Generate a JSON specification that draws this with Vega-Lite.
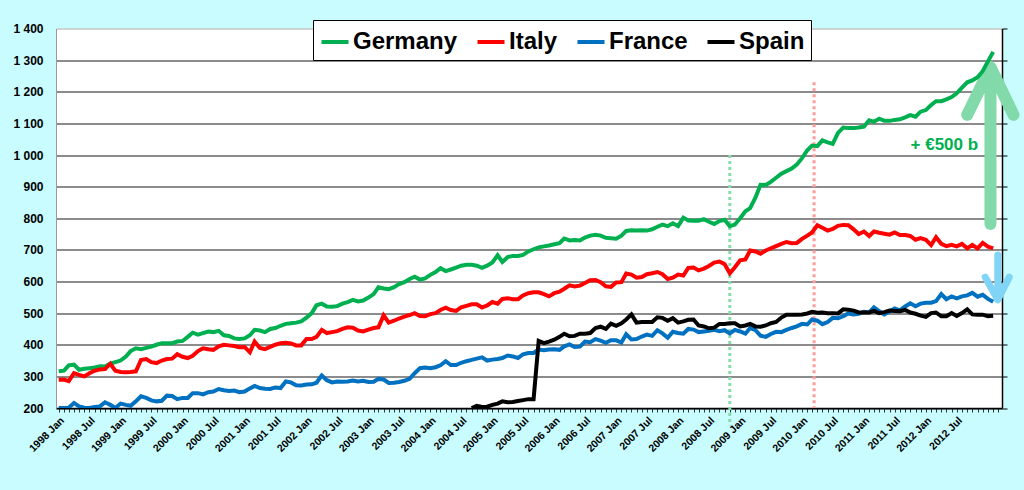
{
"$schema":"https://vega.github.io/schema/vega-lite/v6.json",
"width":946,"height":379.5,
"autosize":{"type":"none"},
"padding":{"left":56,"top":28.5,"right":22,"bottom":82},
"background":"#C8FCFF",
"config":{"view":{"fill":"white","stroke":null},"font":"Liberation Sans"},
"datasets":{
"monthly":[
{"d":"1998-01","Germany":316,"Italy":289,"France":200},
{"d":"1998-02","Germany":318,"Italy":290,"France":200},
{"d":"1998-03","Germany":335,"Italy":285,"France":201},
{"d":"1998-04","Germany":337,"Italy":310,"France":216},
{"d":"1998-05","Germany":321,"Italy":305,"France":205},
{"d":"1998-06","Germany":324,"Italy":300,"France":201},
{"d":"1998-07","Germany":326,"Italy":310,"France":200},
{"d":"1998-08","Germany":328,"Italy":318,"France":203},
{"d":"1998-09","Germany":332,"Italy":322,"France":205},
{"d":"1998-10","Germany":331,"Italy":323,"France":218},
{"d":"1998-11","Germany":340,"Italy":340,"France":210},
{"d":"1998-12","Germany":345,"Italy":318,"France":200},
{"d":"1999-01","Germany":350,"Italy":314,"France":214},
{"d":"1999-02","Germany":363,"Italy":313,"France":210},
{"d":"1999-03","Germany":380,"Italy":314,"France":207},
{"d":"1999-04","Germany":389,"Italy":316,"France":221},
{"d":"1999-05","Germany":386,"Italy":352,"France":237},
{"d":"1999-06","Germany":390,"Italy":355,"France":232},
{"d":"1999-07","Germany":394,"Italy":345,"France":224},
{"d":"1999-08","Germany":400,"Italy":342,"France":221},
{"d":"1999-09","Germany":405,"Italy":350,"France":223},
{"d":"1999-10","Germany":405,"Italy":355,"France":239},
{"d":"1999-11","Germany":405,"Italy":356,"France":238},
{"d":"1999-12","Germany":410,"Italy":370,"France":228},
{"d":"2000-01","Germany":412,"Italy":362,"France":232},
{"d":"2000-02","Germany":425,"Italy":358,"France":232},
{"d":"2000-03","Germany":438,"Italy":365,"France":247},
{"d":"2000-04","Germany":432,"Italy":380,"France":247},
{"d":"2000-05","Germany":437,"Italy":389,"France":243},
{"d":"2000-06","Germany":442,"Italy":386,"France":250},
{"d":"2000-07","Germany":440,"Italy":384,"France":252},
{"d":"2000-08","Germany":444,"Italy":395,"France":260},
{"d":"2000-09","Germany":430,"Italy":400,"France":256},
{"d":"2000-10","Germany":428,"Italy":398,"France":254},
{"d":"2000-11","Germany":420,"Italy":396,"France":255},
{"d":"2000-12","Germany":418,"Italy":392,"France":250},
{"d":"2001-01","Germany":420,"Italy":393,"France":252},
{"d":"2001-02","Germany":430,"Italy":376,"France":262},
{"d":"2001-03","Germany":447,"Italy":410,"France":270},
{"d":"2001-04","Germany":445,"Italy":390,"France":263},
{"d":"2001-05","Germany":440,"Italy":386,"France":261},
{"d":"2001-06","Germany":450,"Italy":393,"France":260},
{"d":"2001-07","Germany":453,"Italy":400,"France":265},
{"d":"2001-08","Germany":460,"Italy":405,"France":263},
{"d":"2001-09","Germany":466,"Italy":406,"France":284},
{"d":"2001-10","Germany":468,"Italy":404,"France":281},
{"d":"2001-11","Germany":470,"Italy":398,"France":272},
{"d":"2001-12","Germany":474,"Italy":398,"France":271},
{"d":"2002-01","Germany":486,"Italy":418,"France":274},
{"d":"2002-02","Germany":500,"Italy":418,"France":275},
{"d":"2002-03","Germany":525,"Italy":425,"France":280},
{"d":"2002-04","Germany":530,"Italy":447,"France":303},
{"d":"2002-05","Germany":521,"Italy":437,"France":288},
{"d":"2002-06","Germany":520,"Italy":440,"France":281},
{"d":"2002-07","Germany":522,"Italy":443,"France":284},
{"d":"2002-08","Germany":530,"Italy":450,"France":283},
{"d":"2002-09","Germany":535,"Italy":455,"France":284},
{"d":"2002-10","Germany":542,"Italy":454,"France":287},
{"d":"2002-11","Germany":537,"Italy":445,"France":284},
{"d":"2002-12","Germany":540,"Italy":442,"France":286},
{"d":"2003-01","Germany":549,"Italy":448,"France":282},
{"d":"2003-02","Germany":560,"Italy":453,"France":283},
{"d":"2003-03","Germany":582,"Italy":455,"France":292},
{"d":"2003-04","Germany":578,"Italy":493,"France":290},
{"d":"2003-05","Germany":576,"Italy":470,"France":279},
{"d":"2003-06","Germany":582,"Italy":476,"France":280},
{"d":"2003-07","Germany":592,"Italy":483,"France":282},
{"d":"2003-08","Germany":598,"Italy":489,"France":286},
{"d":"2003-09","Germany":608,"Italy":494,"France":292},
{"d":"2003-10","Germany":615,"Italy":500,"France":310},
{"d":"2003-11","Germany":606,"Italy":491,"France":326},
{"d":"2003-12","Germany":610,"Italy":490,"France":328},
{"d":"2004-01","Germany":621,"Italy":497,"France":326},
{"d":"2004-02","Germany":630,"Italy":500,"France":329},
{"d":"2004-03","Germany":642,"Italy":510,"France":335},
{"d":"2004-04","Germany":633,"Italy":517,"France":348},
{"d":"2004-05","Germany":638,"Italy":510,"France":336},
{"d":"2004-06","Germany":644,"Italy":507,"France":336},
{"d":"2004-07","Germany":650,"Italy":518,"France":343},
{"d":"2004-08","Germany":653,"Italy":523,"France":348},
{"d":"2004-09","Germany":653,"Italy":528,"France":352,"Spain":200},
{"d":"2004-10","Germany":650,"Italy":528,"France":356,"Spain":207},
{"d":"2004-11","Germany":643,"Italy":518,"France":360,"Spain":203},
{"d":"2004-12","Germany":650,"Italy":524,"France":350,"Spain":204},
{"d":"2005-01","Germany":660,"Italy":535,"France":353,"Spain":210},
{"d":"2005-02","Germany":683,"Italy":530,"France":355,"Spain":214},
{"d":"2005-03","Germany":662,"Italy":545,"France":358,"Spain":221},
{"d":"2005-04","Germany":677,"Italy":547,"France":366,"Spain":218},
{"d":"2005-05","Germany":681,"Italy":544,"France":363,"Spain":219},
{"d":"2005-06","Germany":681,"Italy":544,"France":358,"Spain":222},
{"d":"2005-07","Germany":684,"Italy":556,"France":370,"Spain":225},
{"d":"2005-08","Germany":695,"Italy":563,"France":374,"Spain":228},
{"d":"2005-09","Germany":702,"Italy":566,"France":374,"Spain":228},
{"d":"2005-10","Germany":708,"Italy":566,"France":385,"Spain":412},
{"d":"2005-11","Germany":711,"Italy":560,"France":383,"Spain":405},
{"d":"2005-12","Germany":714,"Italy":553,"France":385,"Spain":410},
{"d":"2006-01","Germany":718,"Italy":563,"France":386,"Spain":416},
{"d":"2006-02","Germany":721,"Italy":568,"France":384,"Spain":425},
{"d":"2006-03","Germany":736,"Italy":577,"France":395,"Spain":435},
{"d":"2006-04","Germany":730,"Italy":588,"France":401,"Spain":427},
{"d":"2006-05","Germany":731,"Italy":584,"France":393,"Spain":428},
{"d":"2006-06","Germany":730,"Italy":587,"France":394,"Spain":435},
{"d":"2006-07","Germany":739,"Italy":595,"France":410,"Spain":435},
{"d":"2006-08","Germany":745,"Italy":604,"France":408,"Spain":437},
{"d":"2006-09","Germany":748,"Italy":605,"France":418,"Spain":453},
{"d":"2006-10","Germany":745,"Italy":598,"France":413,"Spain":457},
{"d":"2006-11","Germany":738,"Italy":585,"France":406,"Spain":450},
{"d":"2006-12","Germany":737,"Italy":583,"France":414,"Spain":467},
{"d":"2007-01","Germany":735,"Italy":597,"France":414,"Spain":460},
{"d":"2007-02","Germany":745,"Italy":598,"France":407,"Spain":468},
{"d":"2007-03","Germany":760,"Italy":625,"France":433,"Spain":480},
{"d":"2007-04","Germany":762,"Italy":622,"France":417,"Spain":496},
{"d":"2007-05","Germany":761,"Italy":612,"France":418,"Spain":470},
{"d":"2007-06","Germany":762,"Italy":614,"France":426,"Spain":472},
{"d":"2007-07","Germany":761,"Italy":623,"France":432,"Spain":472},
{"d":"2007-08","Germany":765,"Italy":626,"France":428,"Spain":472},
{"d":"2007-09","Germany":773,"Italy":630,"France":446,"Spain":487},
{"d":"2007-10","Germany":780,"Italy":623,"France":436,"Spain":485},
{"d":"2007-11","Germany":775,"Italy":608,"France":422,"Spain":476},
{"d":"2007-12","Germany":784,"Italy":612,"France":441,"Spain":484},
{"d":"2008-01","Germany":775,"Italy":622,"France":437,"Spain":470},
{"d":"2008-02","Germany":802,"Italy":619,"France":435,"Spain":474},
{"d":"2008-03","Germany":793,"Italy":643,"France":450,"Spain":479},
{"d":"2008-04","Germany":792,"Italy":644,"France":448,"Spain":480},
{"d":"2008-05","Germany":792,"Italy":635,"France":440,"Spain":461},
{"d":"2008-06","Germany":797,"Italy":641,"France":442,"Spain":458},
{"d":"2008-07","Germany":789,"Italy":649,"France":444,"Spain":452},
{"d":"2008-08","Germany":782,"Italy":660,"France":447,"Spain":454},
{"d":"2008-09","Germany":791,"Italy":663,"France":443,"Spain":466},
{"d":"2008-10","Germany":795,"Italy":655,"France":446,"Spain":466},
{"d":"2008-11","Germany":775,"Italy":626,"France":436,"Spain":468},
{"d":"2008-12","Germany":780,"Italy":645,"France":447,"Spain":468},
{"d":"2009-01","Germany":800,"Italy":667,"France":442,"Spain":458},
{"d":"2009-02","Germany":822,"Italy":670,"France":435,"Spain":461},
{"d":"2009-03","Germany":832,"Italy":698,"France":453,"Spain":466},
{"d":"2009-04","Germany":865,"Italy":695,"France":446,"Spain":458},
{"d":"2009-05","Germany":906,"Italy":688,"France":429,"Spain":457},
{"d":"2009-06","Germany":905,"Italy":698,"France":425,"Spain":461},
{"d":"2009-07","Germany":915,"Italy":705,"France":434,"Spain":468},
{"d":"2009-08","Germany":928,"Italy":712,"France":441,"Spain":472},
{"d":"2009-09","Germany":941,"Italy":719,"France":440,"Spain":486},
{"d":"2009-10","Germany":949,"Italy":725,"France":447,"Spain":495},
{"d":"2009-11","Germany":957,"Italy":721,"France":453,"Spain":495},
{"d":"2009-12","Germany":970,"Italy":722,"France":458,"Spain":495},
{"d":"2010-01","Germany":990,"Italy":735,"France":466,"Spain":496},
{"d":"2010-02","Germany":1015,"Italy":745,"France":464,"Spain":499},
{"d":"2010-03","Germany":1030,"Italy":755,"France":480,"Spain":504},
{"d":"2010-04","Germany":1028,"Italy":778,"France":476,"Spain":501},
{"d":"2010-05","Germany":1046,"Italy":770,"France":465,"Spain":502},
{"d":"2010-06","Germany":1040,"Italy":761,"France":472,"Spain":500},
{"d":"2010-07","Germany":1035,"Italy":766,"France":485,"Spain":500},
{"d":"2010-08","Germany":1070,"Italy":776,"France":484,"Spain":499},
{"d":"2010-09","Germany":1087,"Italy":779,"France":490,"Spain":512},
{"d":"2010-10","Germany":1085,"Italy":778,"France":499,"Spain":511},
{"d":"2010-11","Germany":1085,"Italy":765,"France":496,"Spain":508},
{"d":"2010-12","Germany":1087,"Italy":750,"France":498,"Spain":502},
{"d":"2011-01","Germany":1090,"Italy":758,"France":504,"Spain":502},
{"d":"2011-02","Germany":1110,"Italy":744,"France":502,"Spain":502},
{"d":"2011-03","Germany":1105,"Italy":758,"France":518,"Spain":507},
{"d":"2011-04","Germany":1115,"Italy":754,"France":506,"Spain":500},
{"d":"2011-05","Germany":1108,"Italy":751,"France":496,"Spain":503},
{"d":"2011-06","Germany":1108,"Italy":748,"France":505,"Spain":508},
{"d":"2011-07","Germany":1111,"Italy":755,"France":515,"Spain":507},
{"d":"2011-08","Germany":1113,"Italy":747,"France":509,"Spain":506},
{"d":"2011-09","Germany":1119,"Italy":747,"France":521,"Spain":510},
{"d":"2011-10","Germany":1126,"Italy":744,"France":531,"Spain":502},
{"d":"2011-11","Germany":1121,"Italy":732,"France":522,"Spain":498},
{"d":"2011-12","Germany":1137,"Italy":737,"France":530,"Spain":492},
{"d":"2012-01","Germany":1142,"Italy":732,"France":533,"Spain":488},
{"d":"2012-02","Germany":1158,"Italy":715,"France":533,"Spain":500},
{"d":"2012-03","Germany":1170,"Italy":740,"France":538,"Spain":502},
{"d":"2012-04","Germany":1170,"Italy":719,"France":560,"Spain":490},
{"d":"2012-05","Germany":1176,"Italy":712,"France":544,"Spain":490},
{"d":"2012-06","Germany":1183,"Italy":716,"France":553,"Spain":500},
{"d":"2012-07","Germany":1195,"Italy":711,"France":547,"Spain":491},
{"d":"2012-08","Germany":1213,"Italy":719,"France":553,"Spain":500},
{"d":"2012-09","Germany":1230,"Italy":705,"France":556,"Spain":512},
{"d":"2012-10","Germany":1236,"Italy":716,"France":564,"Spain":496},
{"d":"2012-11","Germany":1246,"Italy":705,"France":552,"Spain":495},
{"d":"2012-12","Germany":1265,"Italy":722,"France":558,"Spain":495},
{"d":"2013-01","Germany":1296,"Italy":710,"France":545,"Spain":490},
{"d":"2013-02","Germany":1326,"Italy":705,"France":536,"Spain":492}
],
"ann":[
{"id":"gline","d":"2008-11-01","v":1000,"v2":145},
{"id":"rline","d":"2010-03-13","v":1230,"v2":200},
{"id":"gshaft","d":"2013-01-16","v":782,"o":1},
{"id":"gshaft","d":"2013-01-16","v":1255,"o":2},
{"id":"ghead","d":"2012-09-01","v":1127,"o":1},
{"id":"ghead","d":"2013-01-16","v":1278,"o":2},
{"id":"ghead","d":"2013-06-01","v":1127,"o":3},
{"id":"bshaft","d":"2013-02-28","v":684,"o":1},
{"id":"bshaft","d":"2013-02-28","v":560,"o":2},
{"id":"bhead","d":"2012-12-16","v":614,"o":1},
{"id":"bhead","d":"2013-02-28","v":542,"o":2},
{"id":"bhead","d":"2013-05-07","v":614,"o":3},
{"id":"txt","d":"2012-04-19","v":1032}
]
},
"encoding":{
"x":{"field":"d","type":"temporal",
 "scale":{"type":"utc","domain":[{"year":1997,"month":12,"date":16,"utc":true},{"year":2013,"month":3,"date":25,"utc":true}]},
 "axis":{"title":null,"tickCount":{"interval":"month","step":1},"labelExpr":"(utcmonth(datum.value) % 6 == 0 && utcyear(datum.value) < 2013) ? utcFormat(datum.value, '%Y %b') : ''",
  "labelOverlap":false,"labelFlush":false,"labelAngle":-45,"labelFontSize":10.5,"labelFontWeight":"bold","labelColor":"black","labelFont":"Liberation Sans",
  "labelPadding":3,"labelDx":8,"grid":false,"domainColor":"black","domainWidth":1.5,"tickColor":"#333","tickSize":4,"tickWidth":1}},
"y":{"field":"v","type":"quantitative","scale":{"domain":[200,1400],"nice":false,"zero":false},"axis":null}
},
"layer":[
{"data":{"name":"ann"},"transform":[{"filter":"datum.id == 'gline'"}],
 "mark":{"type":"rule","color":"#86DCAA","strokeWidth":3,"strokeDash":[3,3],"clip":false},
 "encoding":{"y2":{"field":"v2"}}},
{"data":{"name":"ann"},"transform":[{"filter":"datum.id == 'rline'"}],
 "mark":{"type":"rule","color":"#FF9A9A","strokeWidth":3,"strokeDash":[3,3],"clip":false},
 "encoding":{"y2":{"field":"v2"}}},
{"data":{"name":"ann"},"transform":[{"filter":"datum.id == 'gshaft' || datum.id == 'ghead'"}],
 "mark":{"type":"line","color":"#82D9A9","strokeWidth":12,"strokeCap":"round","strokeJoin":"round","clip":false},
 "encoding":{"detail":{"field":"id"},"order":{"field":"o"}}},
{"data":{"name":"ann"},"transform":[{"filter":"datum.id == 'bshaft' || datum.id == 'bhead'"}],
 "mark":{"type":"line","color":"#80D5F6","strokeWidth":7,"strokeCap":"round","strokeJoin":"round","clip":false},
 "encoding":{"detail":{"field":"id"},"order":{"field":"o"}}},
{"data":{"name":"monthly"},
 "transform":[{"fold":["Germany","Italy","France","Spain"],"as":["k","v"]},{"filter":"datum.v != null"}],
 "mark":{"type":"line","clip":true},
 "encoding":{
  "y":{"field":"v","type":"quantitative","scale":{"domain":[200,1400],"nice":false,"zero":false},
   "axis":{"title":null,"values":[200,300,400,500,600,700,800,900,1000,1100,1200,1300,1400],
    "labelExpr":"replace(format(datum.value, ','), ',', ' ')","labelFontSize":12,"labelFontWeight":"bold","labelColor":"black","labelFont":"Liberation Sans",
    "labelPadding":13,"ticks":false,"domain":true,"domainColor":"#999","grid":true,
    "gridColor":{"condition":{"test":"datum.value === 1400","value":"#aaaaaa"},"value":"#1a1a1a"},"gridWidth":1.2}},
  "color":{"field":"k","type":"nominal","sort":["Germany","Italy","France","Spain"],
   "scale":{"domain":["Germany","Italy","France","Spain"],"range":["#00B050","#FF0000","#0070C0","#000000"]},
   "legend":{"title":null,"orient":"none","legendX":257,"legendY":-8.5,"direction":"horizontal","symbolType":"stroke","symbolSize":730,"symbolStrokeWidth":3.5,
    "labelFontSize":24,"labelFontWeight":"bold","labelFont":"Liberation Sans","labelColor":"black","labelOffset":2,"columnPadding":11,
    "strokeColor":"black","fillColor":"white","padding":6}},
  "strokeWidth":{"field":"k","type":"nominal","scale":{"domain":["Germany","Italy","France","Spain"],"range":[4,4,4,2.7]},"legend":null}
 }},
{"data":{"name":"ann"},"transform":[{"filter":"datum.id == 'txt'"}],
 "mark":{"type":"text","text":"+ €500 b","fontSize":17,"fontWeight":"bold","font":"Liberation Sans","color":"#00B050","align":"center","baseline":"middle"},
 "encoding":{
  "y":{"field":"v","type":"quantitative","scale":{"domain":[200,1400],"nice":false,"zero":false},
   "axis":{"orient":"right","title":null,"labels":false,"grid":false,"ticks":true,"tickSize":5,"tickColor":"black","domain":true,"domainColor":"black","domainWidth":1.5,
    "values":[200,300,400,500,600,700,800,900,1000,1100,1200,1300,1400]}}}}
],
"resolve":{"axis":{"y":"independent"}}
}
